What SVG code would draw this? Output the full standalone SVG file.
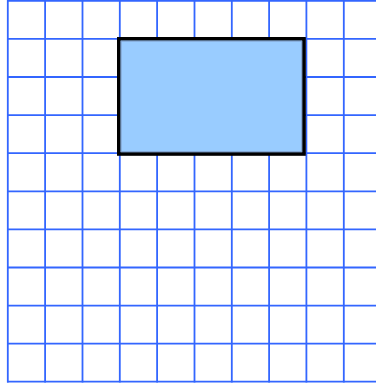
<svg xmlns="http://www.w3.org/2000/svg" width="376" height="388" viewBox="0 0 376 388">
<style>
.g{stroke:#3366FF;stroke-width:1.8;fill:none}
</style>
<rect x="0" y="0" width="376" height="388" fill="#FFFFFF"/>
<g id="grid" class="g">
<path d="M7.8 0V382.6M45.1 0V382.6M82.5 0V382.6M119.8 0V382.6M157.1 0V382.6M194.5 0V382.6M231.8 0V382.6M269.1 0V382.6M306.4 0V382.6M343.8 0V382.6"/>
<path d="M7 0.8H376M7 38.9H376M7 77H376M7 115.1H376M7 153.2H376M7 191.3H376M7 229.4H376M7 267.5H376M7 305.6H376M7 343.7H376M7 381.7H376"/>
</g>
<g id="box">
<rect x="118.8" y="38.8" width="185.2" height="115.2" fill="#99CCFF" stroke="#000000" stroke-width="3.6"/>
<rect x="121.1" y="41.1" width="180.6" height="110.6" fill="none" stroke="#7F9FCC" stroke-width="1"/>
</g>
</svg>
